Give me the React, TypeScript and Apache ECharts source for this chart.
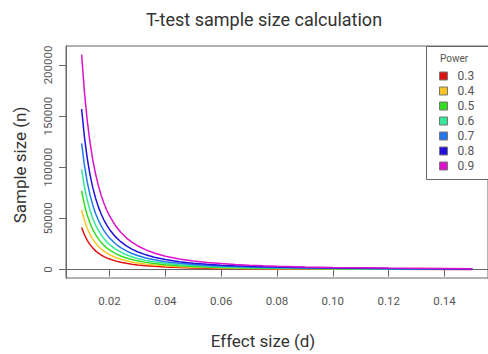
import React, { useEffect, useRef } from "react";
import * as echarts from "echarts";

const effectSizes = [0.010, 0.011, 0.012, 0.013, 0.014, 0.015, 0.016, 0.017, 0.018, 0.019, 0.020, 0.022, 0.024, 0.026, 0.028, 0.030, 0.033, 0.036, 0.040, 0.045, 0.050, 0.055, 0.060, 0.065, 0.070, 0.075, 0.080, 0.090, 0.100, 0.120, 0.150];

const powerLevels = ["0.3", "0.4", "0.5", "0.6", "0.7", "0.8", "0.9"];
const powerColors = ["#DD1111", "#F7C522", "#33DD22", "#33E898", "#2277EE", "#2211DD", "#DD11CC"];

const n03 = [41220, 34066, 28625, 24391, 21030, 18320, 16102, 14263, 12722, 11418, 10305, 8517, 7156, 6098, 5258, 4580, 3785, 3181, 2576, 2035, 1649, 1363, 1145, 976, 841, 733, 644, 509, 412, 286, 183];
const n04 = [58250, 48141, 40451, 34468, 29719, 25889, 22754, 20156, 17978, 16136, 14563, 12035, 10113, 8617, 7430, 6472, 5349, 4495, 3641, 2876, 2330, 1926, 1618, 1379, 1189, 1036, 910, 719, 583, 405, 259];
const n05 = [76830, 63496, 53354, 45462, 39199, 34147, 30012, 26585, 23713, 21283, 19208, 15874, 13338, 11365, 9800, 8537, 7055, 5928, 4802, 3794, 3073, 2540, 2134, 1819, 1568, 1366, 1200, 949, 768, 534, 341];
const n06 = [97970, 80967, 68035, 57971, 49984, 43542, 38270, 33900, 30238, 27139, 24493, 20242, 17009, 14493, 12496, 10886, 8997, 7559, 6123, 4838, 3919, 3239, 2722, 2319, 2000, 1742, 1531, 1210, 980, 680, 435];
const n07 = [123440, 102017, 85722, 73042, 62978, 54862, 48219, 42713, 38099, 34194, 30860, 25504, 21430, 18261, 15745, 13716, 11336, 9525, 7715, 6096, 4938, 4081, 3429, 2922, 2519, 2195, 1929, 1524, 1234, 857, 549];
const n08 = [156980, 129736, 109013, 92888, 80091, 69768, 61320, 54318, 48450, 43485, 39245, 32434, 27253, 23222, 20023, 17442, 14415, 12113, 9811, 7752, 6279, 5190, 4361, 3716, 3204, 2791, 2453, 1938, 1570, 1090, 698];
const n09 = [210150, 173678, 145937, 124350, 107219, 93399, 82090, 72716, 64861, 58214, 52538, 43419, 36484, 31088, 26805, 23350, 19298, 16215, 13134, 10377, 8406, 6948, 5838, 4974, 4289, 3736, 3284, 2594, 2102, 1459, 934];

const sampleSizes = [n03, n04, n05, n06, n07, n08, n09];

const xTicks = [0.02, 0.04, 0.06, 0.08, 0.10, 0.12, 0.14];
const yTicks = [0, 50000, 100000, 150000, 200000];

const FONT = "Roboto, 'Noto Sans', sans-serif";

export default function App() {
  const ref = useRef<HTMLDivElement>(null);
  useEffect(() => {
    if (!ref.current) return;
    const chart = echarts.init(ref.current, undefined, { renderer: "svg" });
    const axisColor = "#666";
    chart.setOption({
      animation: false,
      backgroundColor: "#fff",
      textStyle: { fontFamily: FONT },
      grid: {
        left: 66,
        top: 46,
        width: 423.4,
        height: 232,
        show: true,
        borderColor: axisColor,
        borderWidth: 1,
        containLabel: false,
      },
      xAxis: {
        type: "value",
        min: 0.0044,
        max: 0.1556,
        splitLine: { show: false },
        axisLine: { show: true, lineStyle: { color: axisColor } },
        axisTick: {
          show: true,
          length: 7,
          lineStyle: { color: axisColor },
          customValues: xTicks,
        },
        axisLabel: {
          color: "#555",
          fontSize: 11.5,
          fontFamily: FONT,
          margin: 17,
          customValues: xTicks,
          formatter: (v: number) => v.toFixed(2),
        },
      },
      yAxis: {
        type: "value",
        min: -8216,
        max: 218549,
        splitLine: { show: false },
        axisLine: { show: true, lineStyle: { color: axisColor } },
        axisTick: {
          show: true,
          length: 7,
          lineStyle: { color: axisColor },
          customValues: yTicks,
        },
        axisLabel: {
          color: "#555",
          fontSize: 11.5,
          fontFamily: FONT,
          margin: 12,
          rotate: 90,
          customValues: yTicks,
          formatter: (v: number) => String(v),
        },
      },
      legend: {
        data: powerLevels,
        orient: "vertical",
        left: 439,
        top: 70,
        padding: 0,
        z: 20,
        icon: "rect",
        itemWidth: 8,
        itemHeight: 8,
        itemGap: 3,
        itemStyle: { borderColor: "#777", borderWidth: 1 },
        textStyle: {
          color: "#555",
          fontSize: 12,
          lineHeight: 12,
          fontFamily: FONT,
          padding: [0, 0, 0, 5],
        },
        selectedMode: false,
      },
      graphic: [
        {
          type: "rect",
          shape: { x: 426.5, y: 46.5, width: 70, height: 133 },
          style: { fill: "#fff", stroke: axisColor, lineWidth: 1 },
          z: 10,
        },
        {
          type: "text",
          x: 440,
          y: 58,
          style: {
            text: "Power",
            fill: "#555",
            font: `10px ${FONT}`,
            verticalAlign: "middle",
          },
          z: 11,
        },
        {
          type: "text",
          x: 264,
          y: 19,
          style: {
            text: "T-test sample size calculation",
            fill: "#333",
            font: `18px ${FONT}`,
            align: "center",
            verticalAlign: "middle",
          },
        },
        {
          type: "text",
          x: 263,
          y: 341,
          style: {
            text: "Effect size (d)",
            fill: "#333",
            font: `17px ${FONT}`,
            align: "center",
            verticalAlign: "middle",
          },
        },
        {
          type: "text",
          x: 20,
          y: 165,
          rotation: Math.PI / 2,
          style: {
            text: "Sample size (n)",
            fill: "#333",
            font: `17px ${FONT}`,
            align: "center",
            verticalAlign: "middle",
          },
        },
      ],
      series: powerLevels.map((p, i) => ({
        name: p,
        type: "line",
        showSymbol: false,
        smooth: false,
        color: powerColors[i],
        lineStyle: { width: 1.5, color: powerColors[i] },
        itemStyle: { color: powerColors[i] },
        data: effectSizes.map((d, j) => [d, sampleSizes[i][j]]),
        z: 2 + i,
      })),
    });
    return () => chart.dispose();
  }, []);
  return (
    <div
      ref={ref}
      style={{ position: "absolute", left: 0, top: 0, width: 488, height: 354 }}
    />
  );
}
